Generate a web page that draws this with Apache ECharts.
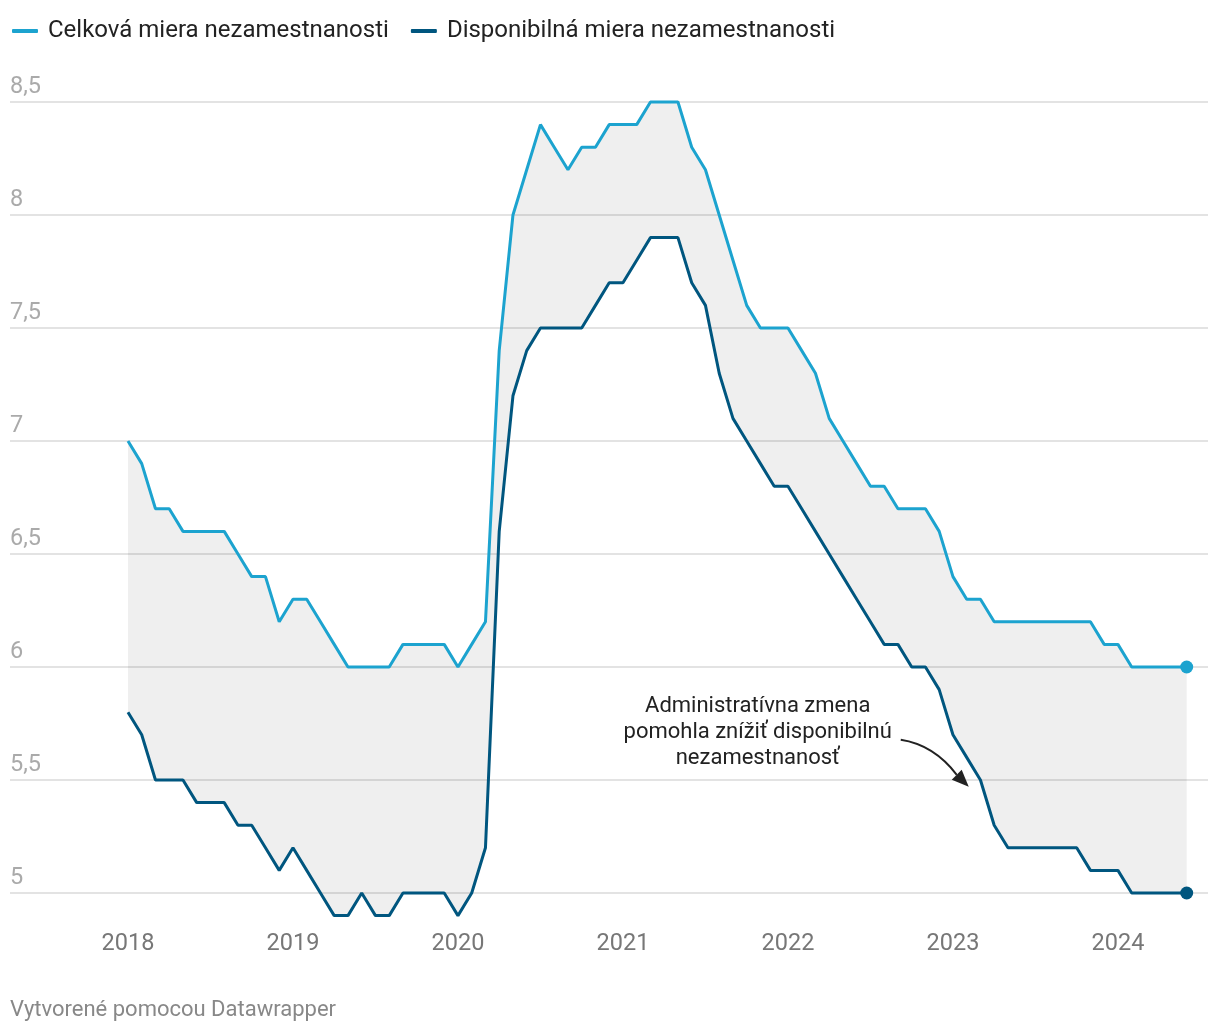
<!DOCTYPE html>
<html>
<head>
<meta charset="utf-8">
<script src="https://cdn.jsdelivr.net/npm/echarts@6/dist/echarts.min.js"></script>
<style>
html,body{margin:0;padding:0;background:#fff;}
#chart{width:1220px;height:1032px;}
</style>
</head>
<body>
<div id="chart"></div>
<script>
// Month index 0 = January 2018, last = June 2024
const yearLabels = ['2018','2019','2020','2021','2022','2023','2024'];
const seriesNames = ['Celková miera nezamestnanosti','Disponibilná miera nezamestnanosti'];
const celkova = [
  7.0,6.9,6.7,6.7,6.6,6.6,6.6,6.6,6.5,6.4,6.4,6.2,
  6.3,6.3,6.2,6.1,6.0,6.0,6.0,6.0,6.1,6.1,6.1,6.1,
  6.0,6.1,6.2,7.4,8.0,8.2,8.4,8.3,8.2,8.3,8.3,8.4,
  8.4,8.4,8.5,8.5,8.5,8.3,8.2,8.0,7.8,7.6,7.5,7.5,
  7.5,7.4,7.3,7.1,7.0,6.9,6.8,6.8,6.7,6.7,6.7,6.6,
  6.4,6.3,6.3,6.2,6.2,6.2,6.2,6.2,6.2,6.2,6.2,6.1,
  6.1,6.0,6.0,6.0,6.0,6.0
];
const disponibilna = [
  5.8,5.7,5.5,5.5,5.5,5.4,5.4,5.4,5.3,5.3,5.2,5.1,
  5.2,5.1,5.0,4.9,4.9,5.0,4.9,4.9,5.0,5.0,5.0,5.0,
  4.9,5.0,5.2,6.6,7.2,7.4,7.5,7.5,7.5,7.5,7.6,7.7,
  7.7,7.8,7.9,7.9,7.9,7.7,7.6,7.3,7.1,7.0,6.9,6.8,
  6.8,6.7,6.6,6.5,6.4,6.3,6.2,6.1,6.1,6.0,6.0,5.9,
  5.7,5.6,5.5,5.3,5.2,5.2,5.2,5.2,5.2,5.2,5.1,5.1,
  5.1,5.0,5.0,5.0,5.0,5.0
];
const annotationLines = ['Administratívna zmena','pomohla znížiť disponibilnú','nezamestnanosť'];
const footerText = 'Vytvorené pomocou Datawrapper';

const cLight = '#1ca3cf';
const cDark = '#00567f';

const lightData = celkova.map((v,i)=>[i,v]);
const darkData = disponibilna.map((v,i)=>[i,v]);
const last = celkova.length - 1;

const chart = echarts.init(document.getElementById('chart'), null, {renderer:'canvas'});
const fmt = v => String(v).replace('.', ',');

chart.setOption({
  animation:false,
  textStyle:{fontFamily:'Roboto'},
  legend:{
    data:seriesNames, left:12, top:19, padding:0, icon:'roundRect',
    itemWidth:26, itemHeight:4, itemGap:22,
    textStyle:{fontSize:24, color:'#222', fontFamily:'Roboto', padding:[0,0,0,5]}
  },
  grid:{left:10, right:12, top:102, bottom:139},
  xAxis:{
    type:'value', min:-8.58, max:78.55,
    axisLine:{show:false}, axisTick:{show:false}, splitLine:{show:false},
    axisLabel:{
      customValues:[0,12,24,36,48,60,72],
      formatter: v => yearLabels[Math.round(v/12)],
      fontSize:23.5, color:'#777', margin:39, fontFamily:'Roboto'
    }
  },
  yAxis:{
    type:'value', min:5, max:8.5, interval:0.5,
    axisLine:{show:false}, axisTick:{show:false},
    splitLine:{lineStyle:{color:'#e3e3e3', width:2}},
    axisLabel:{
      inside:true, margin:0, verticalAlign:'bottom', align:'left',
      fontSize:23.5, color:'#aaa', padding:[0,0,3,0], fontFamily:'Roboto',
      formatter: fmt
    }
  },
  series:[
    {name:'band', type:'custom', silent:true, clip:false, z:1, data:[[0, celkova[0]]],
     renderItem:(params, api) => {
       const pts = lightData.map(d => api.coord(d))
         .concat(darkData.slice().reverse().map(d => api.coord(d)));
       return {type:'polygon', shape:{points:pts}, style:{fill:'rgba(0,0,0,0.062)'}};
     }},
    {name:seriesNames[0], type:'line', data:lightData, symbol:'none', clip:false, z:3,
     color:cLight, lineStyle:{color:cLight, width:3}},
    {name:seriesNames[1], type:'line', data:darkData, symbol:'none', clip:false, z:3,
     color:cDark, lineStyle:{color:cDark, width:3}},
    {name:'endLight', type:'scatter', data:[lightData[last]], symbolSize:13, clip:false, z:4,
     itemStyle:{color:cLight, opacity:1}},
    {name:'endDark', type:'scatter', data:[darkData[last]], symbolSize:13, clip:false, z:4,
     itemStyle:{color:cDark, opacity:1}}
  ]
});

// annotation placed via data coordinates
const textC = chart.convertToPixel({gridIndex:0}, [45.8, 5.708]);
const tip = chart.convertToPixel({gridIndex:0}, [61.15, 5.47]);
const start = [tip[0]-68, tip[1]-47];
const ctrl = [tip[0]-35, tip[1]-42];
const endC = [tip[0]-12, tip[1]-12];
const ang = Math.atan2(tip[1]-endC[1], tip[0]-endC[0]);
const hl = 17, hw = 7;
const bx = tip[0]-hl*Math.cos(ang), by = tip[1]-hl*Math.sin(ang);
const px = -Math.sin(ang)*hw, py = Math.cos(ang)*hw;

chart.setOption({
  graphic:[
    {type:'text', x:textC[0], y:textC[1], style:{
      text:annotationLines.join('\n'), fontSize:22, lineHeight:26, fill:'#222',
      fontFamily:'Roboto', align:'center', verticalAlign:'middle'}},
    {type:'bezierCurve', shape:{x1:start[0], y1:start[1], x2:endC[0], y2:endC[1], cpx1:ctrl[0], cpy1:ctrl[1]},
      style:{stroke:'#222', lineWidth:2, fill:null}},
    {type:'polygon', shape:{points:[[tip[0],tip[1]],[bx+px,by+py],[bx-px,by-py]]}, style:{fill:'#222'}},
    {type:'text', left:10, top:999, style:{text:footerText, fontSize:22, fill:'#888', fontFamily:'Roboto'}}
  ]
});
</script>
</body>
</html>
